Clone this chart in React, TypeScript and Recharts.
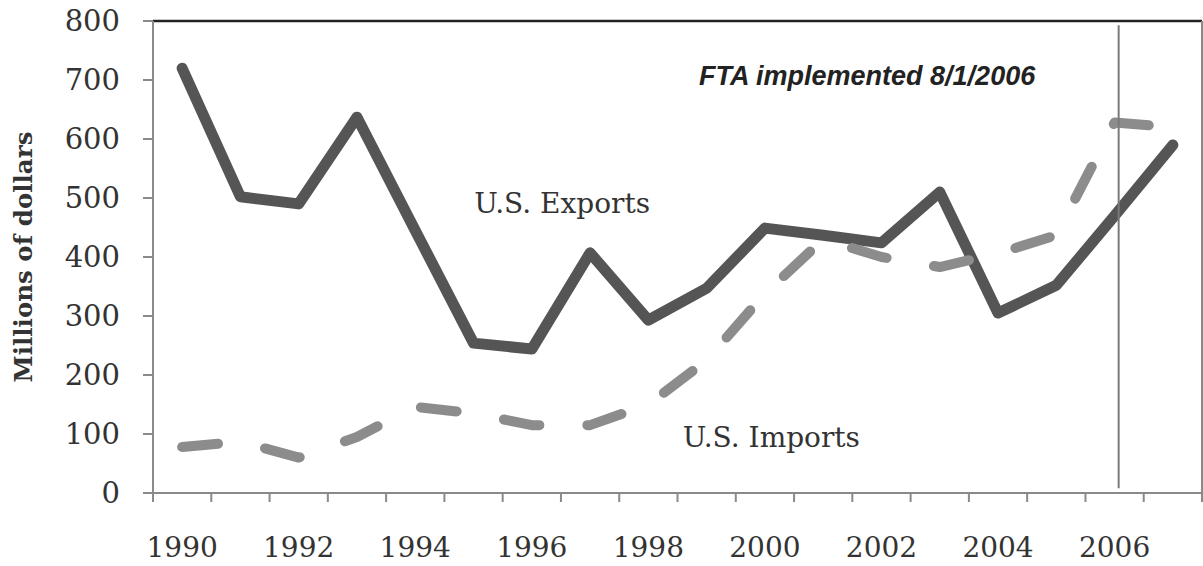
import React from 'react';
import { LineChart, Line, XAxis, YAxis, ReferenceLine, ReferenceDot } from 'recharts';

// ---- data ----
const years = [1990, 1991, 1992, 1993, 1994, 1995, 1996, 1997, 1998, 1999, 2000, 2001, 2002, 2003, 2004, 2005, 2006, 2007];
const usExports = [720, 502, 490, 637, 445, 254, 244, 407, 293, 347, 449, 437, 424, 510, 305, 352, 470, 590];
const usImports = [78, 87, 60, 95, 146, 135, 115, 115, 150, 225, 338, 430, 400, 383, 406, 437, 628, 620];
const xTickLabels = [1990, 1992, 1994, 1996, 1998, 2000, 2002, 2004, 2006];
const yTicks = [0, 100, 200, 300, 400, 500, 600, 700, 800];
const ftaYear = 2006.07;
const ftaText = 'FTA implemented 8/1/2006';
const exportsLabel = { text: 'U.S. Exports', year: 1996.52, value: 475 };
const importsLabel = { text: 'U.S. Imports', year: 2000.11, value: 78 };
const ftaLabel = { text: ftaText, year: 1998.87, value: 691 };

const data = years.map((year, i) => ({ year, exports: usExports[i], imports: usImports[i] }));
const bandEdges = [...years.map((y) => y - 0.5), years[years.length - 1] + 0.5];
const xTicks = [...bandEdges, ...xTickLabels].sort((a, b) => a - b);

const SERIF = '"DejaVu Serif", serif';
const AXIS_GRAY = '#8a8a8a';
const TEXT = '#333333';

const XTick = (props: any) => {
  const { x, y, payload } = props;
  const v = payload.value;
  if (!Number.isInteger(v)) {
    return <line x1={x} y1={y} x2={x} y2={y + 9} stroke={AXIS_GRAY} strokeWidth={2} />;
  }
  return (
    <text x={x} y={y + 64} textAnchor="middle" fill={TEXT} fontFamily={SERIF} fontSize={28}>
      {v}
    </text>
  );
};

const YLabel = (props: any) => {
  const vb = props.viewBox || { x: 0, y: 21, width: 153, height: 472 };
  const cx = vb.x + 32;
  const cy = vb.y + vb.height / 2;
  return (
    <text
      x={cx}
      y={cy}
      transform={`rotate(-90 ${cx} ${cy})`}
      textAnchor="middle"
      fill={TEXT}
      fontFamily={SERIF}
      fontWeight="bold"
      fontSize={24.5}
    >
      Millions of dollars
    </text>
  );
};

const makeLabel = (text: string, anchor: 'middle' | 'start', style: any) => (p: any) => {
  const vb = p.viewBox || { x: 0, y: 0 };
  return (
    <text x={vb.x} y={vb.y} textAnchor={anchor} {...style}>
      {text}
    </text>
  );
};

const serifLabelStyle = { fill: TEXT, fontFamily: SERIF, fontSize: 28 };
const ftaStyle = {
  fill: '#222222',
  fontFamily: '"Liberation Sans", Arial, sans-serif',
  fontWeight: 'bold',
  fontStyle: 'italic',
  fontSize: 27,
};

export default function App() {
  return (
    <div style={{ position: 'absolute', left: 0, top: 0, width: 1203, height: 566, background: '#fff' }}>
      <LineChart width={1203} height={566} data={data} margin={{ top: 21, right: 1, bottom: 0, left: 0 }}>
        <XAxis
          dataKey="year"
          type="number"
          domain={[1989.5, 2007.5]}
          ticks={xTicks}
          interval={0}
          tickLine={false}
          tickSize={0}
          tickMargin={0}
          tick={<XTick />}
          axisLine={{ stroke: AXIS_GRAY, strokeWidth: 2 }}
          height={73}
        />
        <YAxis
          type="number"
          domain={[0, 800]}
          ticks={yTicks}
          interval={0}
          width={153}
          tickSize={10}
          tickMargin={23}
          tickLine={{ stroke: AXIS_GRAY, strokeWidth: 2 }}
          axisLine={{ stroke: AXIS_GRAY, strokeWidth: 2 }}
          tick={{ fill: TEXT, fontFamily: SERIF, fontSize: 29 }}
          label={YLabel}
        />
        <ReferenceLine y={800} stroke="#222222" strokeWidth={2.5} />
        <ReferenceLine x={2007.5} stroke={AXIS_GRAY} strokeWidth={2} />
        <Line
          dataKey="exports"
          type="linear"
          stroke="#555555"
          strokeWidth={11}
          strokeLinejoin="round"
          strokeLinecap="round"
          dot={false}
          activeDot={false}
          isAnimationActive={false}
        />
        <Line
          dataKey="imports"
          type="linear"
          stroke="#8c8c8c"
          strokeWidth={10}
          strokeDasharray="36 48"
          strokeLinecap="round"
          strokeLinejoin="round"
          dot={false}
          activeDot={false}
          isAnimationActive={false}
        />
        <ReferenceLine
          segment={[
            { x: ftaYear, y: 8 },
            { x: ftaYear, y: 793 },
          ]}
          stroke="#7a7a7a"
          strokeWidth={2}
        />
        <ReferenceDot
          x={exportsLabel.year}
          y={exportsLabel.value}
          r={0}
          fill="none"
          stroke="none"
          label={makeLabel(exportsLabel.text, 'middle', serifLabelStyle)}
        />
        <ReferenceDot
          x={importsLabel.year}
          y={importsLabel.value}
          r={0}
          fill="none"
          stroke="none"
          label={makeLabel(importsLabel.text, 'middle', serifLabelStyle)}
        />
        <ReferenceDot
          x={ftaLabel.year}
          y={ftaLabel.value}
          r={0}
          fill="none"
          stroke="none"
          label={makeLabel(ftaLabel.text, 'start', ftaStyle)}
        />
      </LineChart>
    </div>
  );
}
